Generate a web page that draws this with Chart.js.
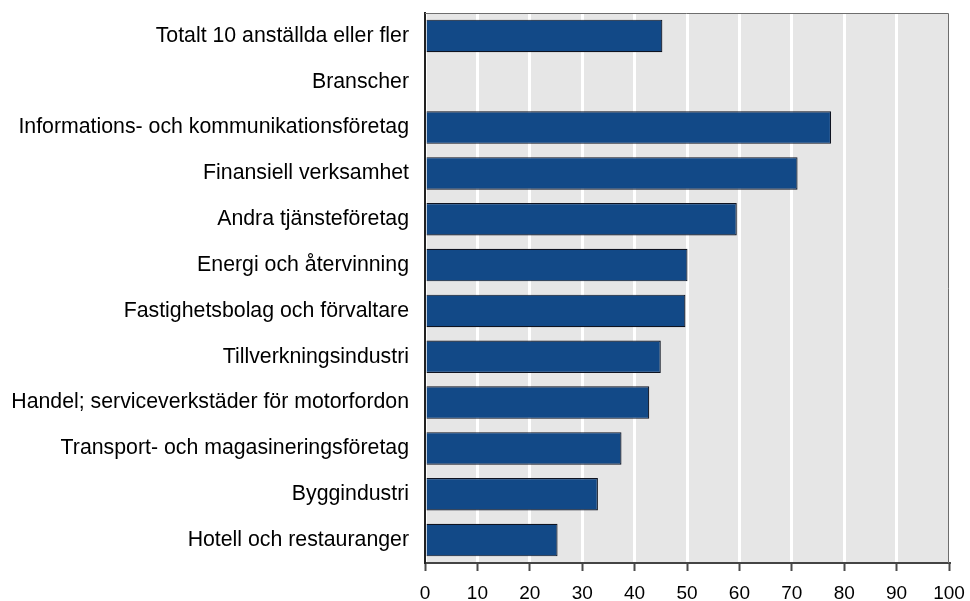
<!DOCTYPE html>
<html>
<head>
<meta charset="utf-8">
<script src="https://cdn.jsdelivr.net/npm/chart.js@4.4.1/dist/chart.umd.min.js"></script>
<style>
  html, body { margin: 0; padding: 0; background: #ffffff; }
  #wrap { width: 970px; height: 601px; position: relative; }
</style>
</head>
<body>
<div id="wrap"><canvas id="chart" width="970" height="601"></canvas></div>
<script>
// Andel företag (%) per bransch
const categories = [
  'Totalt 10 anställda eller fler',
  'Branscher',
  'Informations- och kommunikationsföretag',
  'Finansiell verksamhet',
  'Andra tjänsteföretag',
  'Energi och återvinning',
  'Fastighetsbolag och förvaltare',
  'Tillverkningsindustri',
  'Handel; serviceverkstäder för motorfordon',
  'Transport- och magasineringsföretag',
  'Byggindustri',
  'Hotell och restauranger'
];
const shares = [45.3, null, 77.5, 71.1, 59.5, 50.1, 49.7, 45.0, 42.8, 37.5, 33.0, 25.3];
const xTickValues = [0, 10, 20, 30, 40, 50, 60, 70, 80, 90, 100];

// Grey plot background and thin frame on the top and right
const plotFrame = {
  id: 'plotFrame',
  beforeDraw(chart) {
    const { ctx, chartArea: a } = chart;
    ctx.save();
    ctx.fillStyle = '#e6e6e6';
    ctx.fillRect(a.left, a.top, a.right - a.left, a.bottom - a.top);
    ctx.restore();
  },
  afterDraw(chart) {
    const { ctx, chartArea: a } = chart;
    ctx.save();
    ctx.strokeStyle = '#6e6e6e';
    ctx.lineWidth = 1;
    ctx.beginPath();
    ctx.moveTo(a.left, a.top + 0.5);
    ctx.lineTo(a.right - 0.5, a.top + 0.5);
    ctx.lineTo(a.right - 0.5, a.bottom);
    ctx.stroke();
    ctx.restore();
  }
};

new Chart(document.getElementById('chart'), {
  type: 'bar',
  data: {
    labels: categories,
    datasets: [{
      data: shares,
      backgroundColor: '#124987',
      borderColor: '#0e1320',
      borderWidth: 1.2,
      barPercentage: 0.71,
      categoryPercentage: 1.0
    }]
  },
  options: {
    indexAxis: 'y',
    responsive: false,
    animation: false,
    devicePixelRatio: 1,
    layout: { padding: { top: 13, right: 21, left: 0, bottom: 0 } },
    plugins: {
      legend: { display: false },
      tooltip: { enabled: false }
    },
    scales: {
      x: {
        min: 0,
        max: 100,
        afterBuildTicks(scale) {
          scale.ticks = xTickValues.map(v => ({ value: v }));
        },
        afterFit(scale) {
          scale.height = 38;
          scale.paddingLeft = 0;
          scale.paddingRight = 0;
        },
        grid: {
          color: '#ffffff',
          lineWidth: 3,
          drawTicks: true,
          tickLength: 8,
          tickColor: '#4a4a4a',
          tickWidth: 2
        },
        border: { display: true, color: '#444444', width: 2, z: 1 },
        ticks: {
          color: '#000000',
          padding: 11,
          font: { family: 'Liberation Sans, Arial, sans-serif', size: 19 },
          maxRotation: 0,
          autoSkip: false
        }
      },
      y: {
        afterFit(scale) {
          scale.width = 425;
          scale.paddingTop = 0;
          scale.paddingBottom = 0;
        },
        grid: { display: false, drawTicks: false },
        border: { display: true, color: '#222222', width: 2, z: 1 },
        ticks: {
          color: '#000000',
          padding: 16,
          font: { family: 'Liberation Sans, Arial, sans-serif', size: 21.3 },
          autoSkip: false
        }
      }
    }
  },
  plugins: [plotFrame]
});
</script>
</body>
</html>
